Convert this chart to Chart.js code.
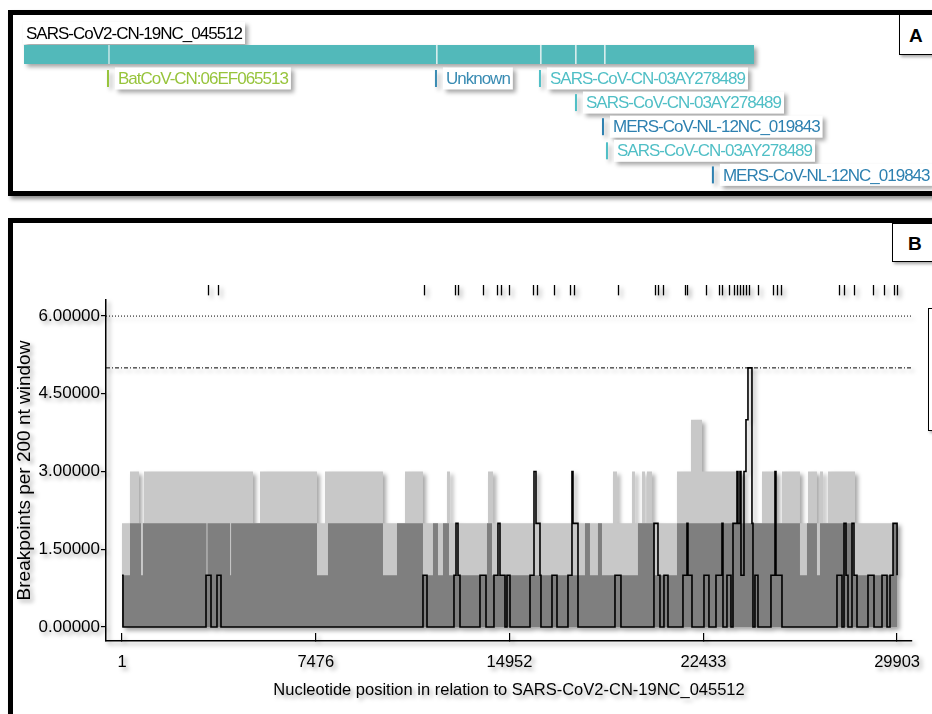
<!DOCTYPE html>
<html>
<head>
<meta charset="utf-8">
<script src="https://cdn.jsdelivr.net/npm/chart.js"></script>
<style>
    body { margin: 0; width: 932px; height: 714px; overflow: hidden; background: #fff; position: relative; font-family: "Liberation Sans", Arial, sans-serif; }
    .panel { position: absolute; left: 8px; width: 960px; border: 5px solid #000; box-sizing: border-box; box-shadow: 3px 3px 4px rgba(0,0,0,.45); }
    #panelA { top: 10px; height: 186px; }
    #panelB { top: 218px; height: 600px; }
    .tag { position: absolute; border: 1px solid #000; background: #fff; width: 60px; box-sizing: border-box; font-weight: bold; font-size: 19px; box-shadow: 2px 2px 3px rgba(0,0,0,.35); }
    #tagA { left: 899px; top: 14px; height: 41px; line-height: 41px; padding-left: 9px; }
    #tagB { left: 892px; top: 223px; height: 39px; line-height: 39px; padding-left: 15px; }
    #legendEdge { position: absolute; left: 928px; top: 308px; width: 40px; height: 121px; border: 1px solid #000; background: #fff; box-shadow: 2px 2px 3px rgba(0,0,0,.35); }
    canvas { position: absolute; left: 0; filter: drop-shadow(3px 3px 2px rgba(0,0,0,.35)); }
    #chartA { top: 0; }
    #chartB { top: 200px; }
</style>
</head>
<body>
<div class="panel" id="panelA"></div>
<div class="panel" id="panelB"></div>
<div class="tag" id="tagA">A</div>
<div class="tag" id="tagB">B</div>
<div id="legendEdge"></div>
<canvas id="chartA" width="932" height="200"></canvas>
<canvas id="chartB" width="932" height="514"></canvas>
<script>
// ---- panel A: query genome and recombination events
const genomeName = 'SARS-CoV2-CN-19NC_045512'
const segmentBreaks = [1, 3441, 16876, 21136, 22570, 23758, 29903]
const eventNames = ['BatCoV-CN:06EF065513', 'Unknown', 'SARS-CoV-CN-03AY278489', 'SARS-CoV-CN-03AY278489',
    'MERS-CoV-NL-12NC_019843', 'SARS-CoV-CN-03AY278489', 'MERS-CoV-NL-12NC_019843']
const eventStarts = [3441, 16876, 21136, 22611, 23717, 23881, 28220]

// ---- panel B: breakpoint density
const xTitle = 'Nucleotide position in relation to SARS-CoV2-CN-19NC_045512'
const yTitle = 'Breakpoints per 200 nt window'
const xTicks = [1, 7476, 14952, 22433, 29903]
const yTicks = [0, 1.5, 3, 4.5, 6]
const thresholds = [6, 5]   // upper 99% / 95% lines

const breakpointSites = [3319, 3705, 11652, 12848, 12964, 13929, 14469, 14623, 14932, 15858, 16012, 16668,
    17285, 17439, 19137, 20564, 20680, 20873, 21721, 21798, 22532, 23033, 23149, 23419, 23611, 23727, 23843,
    23958, 24074, 24190, 24538, 25117, 25271, 25425, 27663, 27856, 28242, 28975, 29399, 29785, 29900]

// light grey (99% confidence)
const upperPos = [1, 310, 657, 850, 5055, 5325, 7524, 7832, 10070, 10919, 11613, 12539, 12655, 14121, 14314,
    18943, 19097, 19676, 19791, 20061, 20177, 20254, 20447, 21412, 21952, 22377, 23843, 24691, 25193, 25463,
    26157, 26466, 26813, 26929, 27045, 27238, 28280, 29903]
const upperVal = [2, 3, 2, 3, 2, 3, 2, 3, 2, 3, 2, 3, 2, 3, 2,
    3, 2, 3, 2, 3, 2, 3, 2, 3, 4, 3, 2, 3, 2, 3,
    2, 3, 2, 3, 2, 3, 2, 2]

// dark grey (95% confidence)
const lowerPos = [1, 310, 734, 811, 3260, 3300, 4170, 4210, 7524, 7948, 10070, 10610, 11613, 11999, 12192,
    12385, 12616, 14082, 14275, 17863, 18055, 18364, 18519, 19907, 20563, 21412, 26157, 26427, 26813, 26929,
    28203, 29747, 29903]
const lowerVal = [1, 2, 1, 2, 1, 2, 1, 2, 1, 2, 1, 2, 1, 2, 1,
    2, 1, 2, 1, 2, 1, 2, 1, 2, 1, 2, 1, 2, 1, 2,
    1, 2, 2]

// black line (observed)
const countPos = [1, 40, 3242, 3435, 3666, 3820, 11613, 11768, 12809, 12887, 12964, 13041, 13812, 14044,
    14352, 14506, 14584, 14777, 14854, 14970, 15742, 15896, 15973, 16127, 16165, 16590, 16783, 17207, 17361,
    17400, 17593, 19020, 19251, 20524, 20679, 20756, 20910, 21065, 21643, 21798, 21836, 21991, 22454, 22646,
    22917, 23148, 23187, 23341, 23495, 23573, 23727, 23765, 23843, 23881, 23997, 24074, 24151, 24305, 24344,
    24421, 24537, 25038, 25193, 25231, 25463, 27585, 27778, 27856, 27933, 28010, 28164, 28241, 28357, 28781,
    29013, 29322, 29515, 29631, 29747, 29903]
const countVal = [1, 0, 1, 0, 1, 0, 1, 0, 1, 2, 1, 0, 1, 0,
    1, 2, 1, 0, 1, 0, 1, 3, 2, 1, 0, 1, 0, 1, 3,
    2, 0, 1, 0, 2, 1, 0, 1, 0, 1, 2, 1, 0, 1, 0,
    1, 2, 0, 1, 0, 2, 3, 2, 3, 1, 3, 4, 5, 2, 0,
    1, 0, 1, 3, 1, 0, 1, 0, 2, 1, 0, 2, 1, 0, 1,
    0, 1, 0, 1, 2, 1]

const virusColors = { BatCoV: '#97c43c', Unknown: '#3a8cb3', SARS: '#50bfc6', MERS: '#2d80b0' }

Chart.defaults.font.family = '"Liberation Sans", Arial, sans-serif'
Chart.defaults.color = '#000'

const toPoints = (pos, val) => pos.map((p, i) => ({ x: p, y: val[i] }))

const labelBox = (ctx, text, x, y, color) => {
    const w = ctx.measureText(text).width
    ctx.fillStyle = '#fff'
    ctx.fillRect(x - 3, y - 11, w + 6, 22)
    ctx.fillStyle = color
    ctx.fillText(text, x, y + 1)
    return w
}

/* --- rotulos de los eventos --- */
const eventLabels = {
    id: 'eventLabels',
    afterDraw(chart) {
        const { ctx, scales: { x } } = chart
        ctx.save()
        ctx.font = '17px "Liberation Sans", Arial, sans-serif'
        ctx.letterSpacing = '-1px'
        ctx.textBaseline = 'middle'

        labelBox(ctx, genomeName, 26, 33, '#000')

        const rowEnds = []
        eventNames.forEach((name, i) => {
            const px = x.getPixelForValue(eventStarts[i])
            const w = ctx.measureText(name).width
            let row = rowEnds.findIndex(end => end < px)
            if (row < 0) row = rowEnds.length
            rowEnds[row] = px + 10 + w
            const y = 78.5 + row * 24.1
            const color = virusColors[name.split('-')[0]]
            ctx.fillStyle = color
            ctx.fillRect(px - 1, y - 8.5, 2, 17)
            labelBox(ctx, name, px + 10, y, color)
        })
        ctx.restore()
    }
}

/* --- marcas de los breakpoints arriba del grafico --- */
const breakpointRug = {
    id: 'breakpointRug',
    afterDatasetsDraw(chart) {
        const { ctx, scales: { x, y } } = chart
        const top = y.getPixelForValue(6.6)
        const bottom = y.getPixelForValue(6.4)
        ctx.save()
        ctx.strokeStyle = '#000'
        ctx.lineWidth = 1.3
        breakpointSites.forEach(p => {
            const px = Math.round(x.getPixelForValue(p)) + 0.5
            ctx.beginPath()
            ctx.moveTo(px, top)
            ctx.lineTo(px, bottom)
            ctx.stroke()
        })
        ctx.restore()
    }
}

new Chart(document.getElementById('chartA'), {
    type: 'bar',
    data: {
        labels: [genomeName],
        datasets: segmentBreaks.slice(1).map((end, i) => ({
            data: [[segmentBreaks[i], end]],
            backgroundColor: '#52b9ba',
            borderColor: '#d6ecec',
            borderWidth: { left: i ? 2 : 0, right: 0, top: 0, bottom: 0 },
            borderSkipped: false,
            grouped: false,
            barPercentage: 1,
            categoryPercentage: 1
        }))
    },
    options: {
        indexAxis: 'y',
        responsive: false,
        animation: false,
        layout: { padding: { left: 24, right: 178, top: 45, bottom: 136 } },
        scales: {
            x: { display: false, min: 1, max: 29903 },
            y: { display: false }
        },
        plugins: { legend: { display: false }, tooltip: { enabled: false } }
    },
    plugins: [eventLabels]
})

const xMin = -616
const xMax = 30479

new Chart(document.getElementById('chartB'), {
    type: 'line',
    data: {
        datasets: [
            ...thresholds.map((t, i) => ({
                data: [{ x: xMin, y: t }, { x: xMax, y: t }],
                borderColor: '#000',
                borderWidth: 1,
                borderDash: i ? [4, 2, 1, 2] : [1, 2],
                pointRadius: 0,
                order: 1
            })),
            {
                data: toPoints(countPos, countVal),
                stepped: 'before',
                borderColor: '#000',
                borderWidth: 1.6,
                fill: false,
                pointRadius: 0,
                order: 2
            },
            {
                data: toPoints(lowerPos, lowerVal),
                stepped: 'before',
                borderColor: 'transparent',
                borderWidth: 0,
                backgroundColor: '#7f7f7f',
                fill: 'origin',
                pointRadius: 0,
                order: 3
            },
            {
                data: toPoints(upperPos, upperVal),
                stepped: 'before',
                borderColor: 'transparent',
                borderWidth: 0,
                backgroundColor: '#c8c8c8',
                fill: 'origin',
                pointRadius: 0,
                order: 4
            }
        ]
    },
    options: {
        responsive: false,
        animation: false,
        layout: { padding: { left: 13, top: 100, right: 20, bottom: 0 } },
        plugins: { legend: { display: false }, tooltip: { enabled: false } },
        scales: {
            x: {
                type: 'linear',
                min: xMin,
                max: xMax,
                afterBuildTicks: s => { s.ticks = xTicks.map(value => ({ value })) },
                afterFit: s => { s.height = 73; s.paddingLeft = 0; s.paddingRight = 0 },
                grid: { drawOnChartArea: false, tickLength: -8, color: '#000', lineWidth: 1.2 },
                border: { color: '#000', width: 1.5 },
                ticks: { color: '#000', font: { size: 16.5 }, padding: 20, autoSkip: false, maxRotation: 0, callback: v => String(v) },
                title: { display: true, text: xTitle, color: '#000', font: { size: 16.5 }, padding: { top: 0, bottom: 14 } }
            },
            y: {
                min: -0.27,
                max: 6.31,
                afterBuildTicks: s => { s.ticks = yTicks.map(value => ({ value })) },
                afterFit: s => { s.width = 93; s.paddingTop = 0; s.paddingBottom = 0 },
                grid: { drawOnChartArea: false, tickLength: 5, color: '#000', lineWidth: 1.2 },
                border: { color: '#000', width: 1.5 },
                ticks: { color: '#000', font: { size: 17 }, padding: 1, callback: v => v.toFixed(5) },
                title: { display: true, text: yTitle, color: '#000', font: { size: 19 }, padding: { top: 0, bottom: 0 } }
            }
        }
    },
    plugins: [breakpointRug]
})
</script>
</body>
</html>
